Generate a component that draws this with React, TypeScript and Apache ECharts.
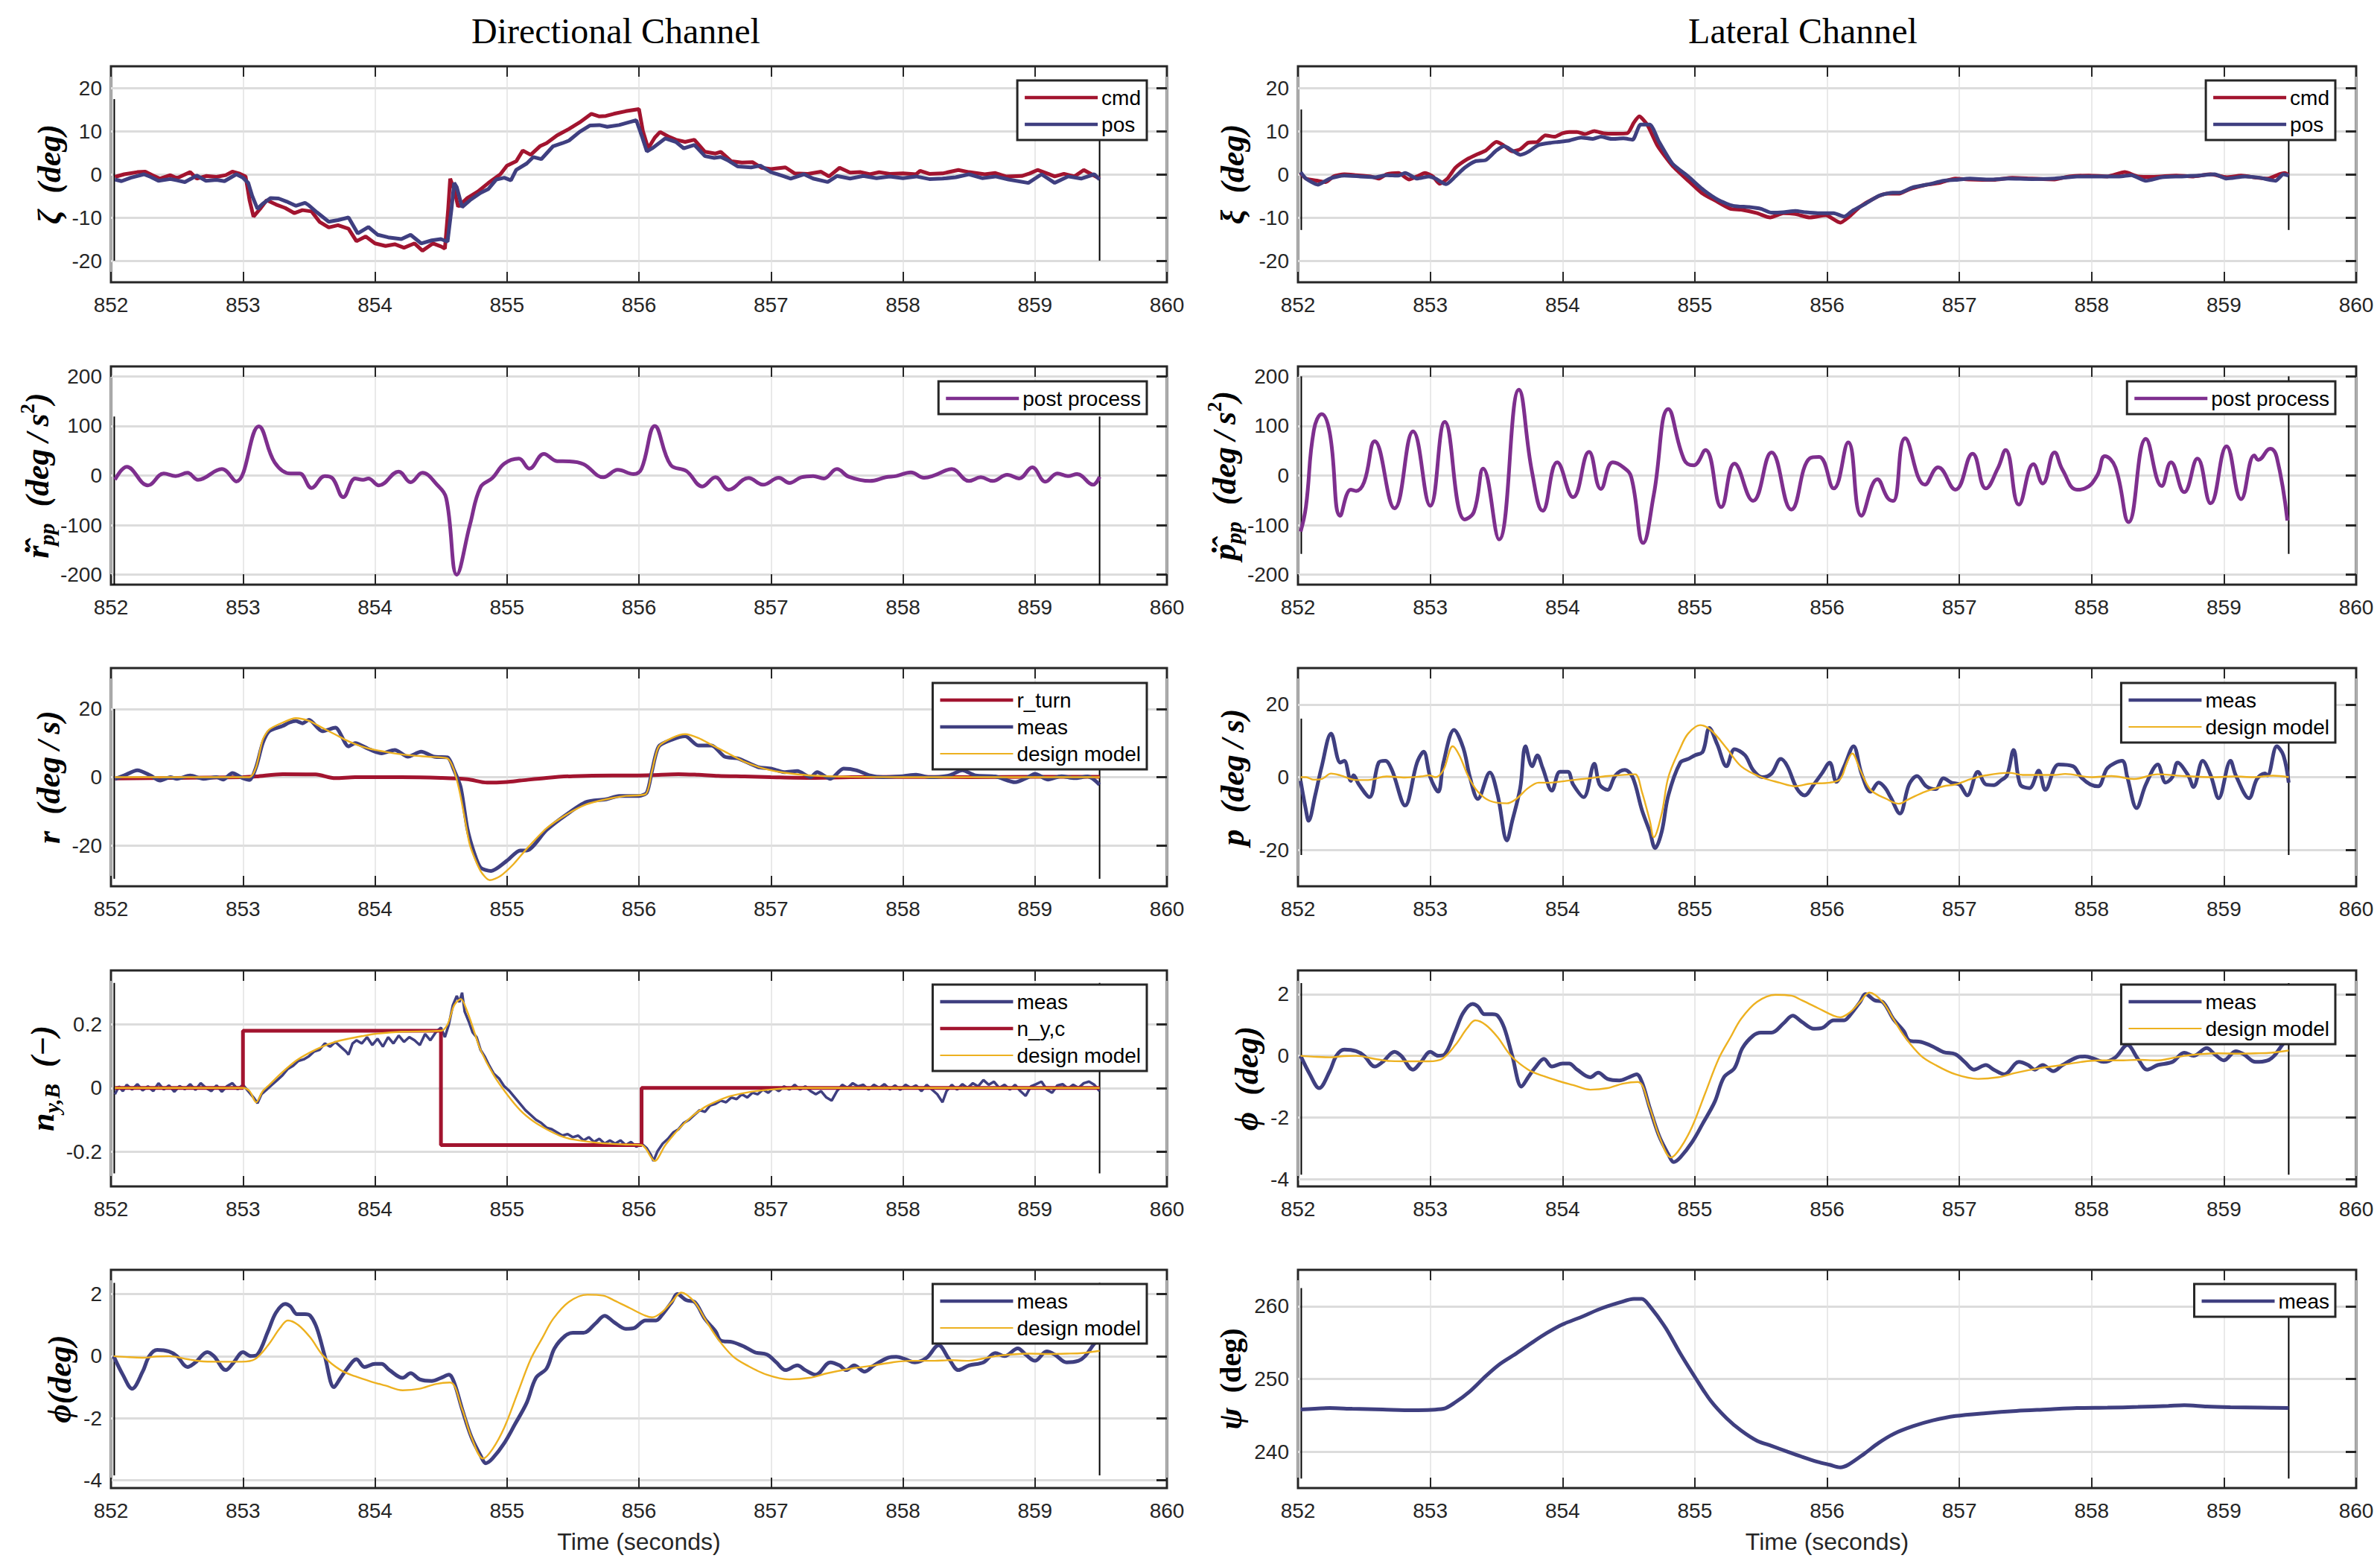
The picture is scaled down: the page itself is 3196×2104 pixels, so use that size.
import React, { useEffect, useRef } from "react";
import * as echarts from "echarts";

// ---------------- data ----------------
const X_MIN = 852;
const X_MAX = 860;
const LIM_T = [852.025, 859.49];

// Row 1 left: rudder
const zetaCmd = [[852.03,-0.6],[852.1,0],[852.2,0.5],[852.26,0.6],[852.32,-0.3],[852.37,-1],[852.45,-0.2],[852.5,-0.9],[852.6,0.5],[852.65,-1],[852.72,-0.4],[852.8,-0.6],[852.87,-0.2],[852.92,0.6],[852.97,0.2],[853.02,-0.5],[853.05,-6],[853.08,-9.8],[853.13,-8],[853.18,-6],[853.25,-7],[853.32,-7.8],[853.39,-9],[853.45,-8.3],[853.52,-8.6],[853.58,-11],[853.65,-12.3],[853.72,-11.8],[853.8,-12.6],[853.86,-15.5],[853.93,-14.4],[854.0,-16],[854.08,-16.6],[854.15,-16.2],[854.22,-17],[854.3,-16],[854.36,-17.7],[854.44,-16],[854.5,-16.7],[854.53,-17.2],[854.555,-8],[854.57,-1],[854.6,-3.5],[854.63,-7.5],[854.7,-5.5],[854.78,-4],[854.86,-2],[854.95,0],[855.0,2],[855.07,3],[855.12,5.5],[855.18,4.5],[855.25,6.5],[855.3,7.2],[855.38,9],[855.47,10.5],[855.55,12],[855.64,14],[855.7,13.4],[855.75,13.5],[855.81,14],[855.9,14.6],[856.0,15.1],[856.03,10],[856.07,6],[856.12,8.5],[856.16,9.8],[856.22,8.8],[856.28,8],[856.35,7.5],[856.42,8],[856.5,5.2],[856.58,4.8],[856.62,5.2],[856.7,3],[856.78,2.7],[856.86,2.8],[856.93,1.5],[857.0,1.2],[857.11,1.6],[857.18,0.2],[857.28,0.1],[857.38,0.6],[857.44,-0.5],[857.52,1.5],[857.6,0.4],[857.68,0.5],[857.75,0],[857.82,0.5],[857.9,0.1],[858.0,0.2],[858.1,0],[858.13,0.8],[858.2,0.1],[858.3,0.2],[858.42,1],[858.5,0.5],[858.62,0],[858.7,0.3],[858.78,-0.5],[858.9,-0.4],[858.96,0.2],[859.02,1],[859.1,0.1],[859.15,-0.5],[859.22,0.1],[859.3,-0.5],[859.37,1],[859.43,0],[859.49,-1]];
const zetaPos = [[852.03,-1.2],[852.08,-1.6],[852.15,-0.8],[852.25,0],[852.3,-0.6],[852.36,-1.5],[852.45,-1.1],[852.5,-1.4],[852.56,-1.8],[852.65,-0.3],[852.72,-1.5],[852.8,-1.3],[852.86,-1.6],[852.95,0],[853.0,-0.8],[853.04,-2],[853.07,-5],[853.11,-8],[853.15,-6.8],[853.21,-5.5],[853.27,-5.6],[853.33,-6.3],[853.4,-7.3],[853.47,-6.6],[853.5,-7.2],[853.56,-8.8],[853.65,-11],[853.72,-10.6],[853.8,-10],[853.87,-13.7],[853.95,-12.2],[854.02,-14],[854.1,-14.6],[854.2,-15],[854.27,-14],[854.35,-16],[854.43,-15.3],[854.5,-15],[854.55,-15.6],[854.58,-8],[854.6,-2],[854.62,-3],[854.66,-7.6],[854.72,-6],[854.8,-4.3],[854.86,-3.4],[854.92,-1.2],[854.98,-0.8],[855.03,-1.4],[855.07,1],[855.15,2.5],[855.2,4],[855.26,3.5],[855.35,6.5],[855.42,7.2],[855.47,7.8],[855.55,9.8],[855.63,11.3],[855.7,11.4],[855.76,11],[855.85,11.4],[855.92,12],[855.98,12.5],[856.02,9],[856.06,5.3],[856.1,6],[856.2,8.3],[856.28,7.5],[856.34,6],[856.42,6.8],[856.5,4.2],[856.57,3.8],[856.62,4],[856.67,3.3],[856.75,1.8],[856.85,1.6],[856.92,2],[857.0,0.5],[857.08,-0.3],[857.15,-1],[857.25,0],[857.32,-1],[857.43,-1.8],[857.5,-0.4],[857.6,-1],[857.7,-0.4],[857.8,-0.9],[857.9,-0.5],[858.0,-0.9],[858.1,-0.5],[858.2,-1.1],[858.3,-1],[858.4,-0.7],[858.5,0],[858.6,-0.9],[858.7,-0.5],[858.8,-1.2],[858.95,-2],[859.05,0],[859.15,-2],[859.25,-0.5],[859.35,-1],[859.45,0],[859.49,-1.2]];

// Row 1 right: aileron
const xiCmd = [[852.02,0.3],[852.06,-1],[852.15,-1.5],[852.21,-1.8],[852.27,-0.5],[852.35,0],[852.44,-0.2],[852.55,-0.5],[852.61,-1],[852.67,0],[852.76,0.3],[852.84,-1.2],[852.9,-0.5],[852.96,0.3],[853.02,-0.5],[853.07,-2.2],[853.13,-1],[853.19,1.5],[853.28,3.5],[853.36,4.7],[853.42,5.5],[853.5,7.5],[853.55,6.8],[853.62,5.3],[853.68,5.8],[853.74,7.3],[853.81,7.5],[853.87,9],[853.94,8.7],[854.0,9.5],[854.05,9.8],[854.11,9.8],[854.17,9.3],[854.24,10],[854.31,9.5],[854.4,9.4],[854.49,9.5],[854.54,12],[854.58,13.4],[854.64,11.5],[854.72,6.5],[854.83,2],[854.95,-1.5],[855.06,-4.5],[855.15,-6],[855.27,-8],[855.35,-8.2],[855.47,-9],[855.57,-10],[855.67,-9],[855.76,-9.2],[855.87,-10],[855.99,-9.5],[856.1,-11.2],[856.16,-10],[856.25,-7.5],[856.36,-5.5],[856.45,-4.5],[856.54,-4.5],[856.62,-3.5],[856.74,-2.5],[856.85,-2],[856.97,-1],[857.08,-1.2],[857.26,-1.3],[857.4,-0.8],[857.55,-1],[857.72,-1.2],[857.83,-0.5],[857.98,-0.3],[858.12,-0.5],[858.25,0.5],[858.35,-0.5],[858.47,-0.6],[858.64,-0.3],[858.76,-0.5],[858.9,0],[859.02,-0.7],[859.13,-0.3],[859.25,-0.8],[859.33,-1],[859.42,0],[859.46,0.3],[859.49,-0.2]];
const xiPos = [[852.02,0.5],[852.06,-1],[852.15,-2.4],[852.24,-1],[852.35,-0.3],[852.47,-0.5],[852.58,-0.7],[852.67,-0.2],[852.76,-0.3],[852.81,0.3],[852.9,-1],[852.99,-0.5],[853.04,-1],[853.12,-2.3],[853.19,-0.5],[853.26,1.5],[853.34,3],[853.42,3.3],[853.5,5.5],[853.56,6.5],[853.62,5.5],[853.68,4.5],[853.74,5.2],[853.82,6.8],[853.91,7.3],[853.97,7.5],[854.05,7.8],[854.14,8.5],[854.23,8.2],[854.29,8.7],[854.37,8.2],[854.46,8.3],[854.53,8],[854.59,11.5],[854.66,11.5],[854.73,7.5],[854.83,2.5],[854.95,-0.5],[855.06,-3.5],[855.18,-6],[855.29,-7.3],[855.41,-7.6],[855.5,-8],[855.58,-8.9],[855.67,-8.8],[855.76,-8.5],[855.84,-8.8],[855.93,-9],[856.05,-9],[856.13,-9.8],[856.19,-8.5],[856.28,-7],[856.39,-5],[856.48,-4.3],[856.56,-4.2],[856.65,-3],[856.77,-2.3],[856.88,-1.5],[856.97,-1.3],[857.08,-1],[857.23,-1.2],[857.37,-1],[857.55,-1.1],[857.72,-1],[857.89,-0.5],[858.06,-0.5],[858.21,-0.5],[858.3,-0.2],[858.41,-1.5],[858.53,-0.7],[858.67,-0.5],[858.81,-0.3],[858.93,0],[859.02,-1],[859.16,-0.5],[859.27,-0.8],[859.39,-1.5],[859.45,0],[859.49,-0.3]];

// Row 2: post-processed accelerations
const rppPost = [[852.03,-8.5],[852.12,17.5],[852.28,-20],[852.4,4],[852.49,-1],[852.58,5.5],[852.66,-8.5],[852.84,13],[852.95,-12],[853.12,99],[853.24,26.5],[853.36,4],[853.43,4],[853.52,-25],[853.62,-1],[853.68,-6],[853.76,-43.6],[853.85,-6],[853.91,-8.5],[853.95,-6],[854.03,-20],[854.18,8],[854.27,-13.5],[854.36,5.5],[854.47,-18.5],[854.54,-46],[854.62,-200],[854.72,-99],[854.8,-23.5],[854.89,-5],[854.98,24],[855.09,34],[855.17,14],[855.28,43.6],[855.38,29],[855.47,28.6],[855.58,23],[855.73,-3.5],[855.84,11.5],[855.96,3],[856.02,14],[856.12,100],[856.24,21.5],[856.36,9],[856.48,-22],[856.58,-3.5],[856.68,-28.6],[856.83,-5],[856.94,-18.5],[857.06,-4.5],[857.14,-15],[857.23,-3.5],[857.32,-1],[857.4,-6],[857.5,13],[857.59,-2.5],[857.75,-11],[857.87,-3.5],[857.95,-1],[858.06,6.5],[858.16,-4.5],[858.24,0.5],[858.37,13],[858.5,-11],[858.59,-3.5],[858.68,-11],[858.79,1.5],[858.88,-6],[858.98,16.5],[859.08,-12.5],[859.17,4],[859.25,-1],[859.32,3],[859.44,-18.5],[859.49,-2.5]];
const pppPost = [[852.02,-113],[852.06,-63],[852.12,91.5],[852.18,124],[852.24,86.5],[852.32,-81],[852.4,-28.5],[852.44,-31],[852.5,-13.5],[852.58,69],[852.73,-66],[852.87,89],[853.0,-61],[853.11,108],[853.26,-88.5],[853.33,-73.5],[853.4,14],[853.52,-128.8],[853.67,173],[853.77,6.5],[853.85,-71],[853.96,26.5],[854.08,-43.6],[854.2,47.6],[854.29,-27],[854.38,26.5],[854.46,16.5],[854.52,-3.5],[854.61,-136],[854.69,-38.6],[854.8,134],[854.92,31.5],[854.99,20.5],[855.08,51.5],[855.2,-63.6],[855.3,24],[855.44,-51],[855.58,46.6],[855.73,-68.6],[855.87,35],[855.94,37.6],[856.05,-26],[856.16,66.7],[856.26,-81],[856.38,-7.5],[856.46,-46],[856.5,-51],[856.59,75],[856.74,-18.5],[856.84,16.5],[856.97,-28.5],[857.1,44],[857.2,-26],[857.29,14],[857.35,51.5],[857.45,-58.6],[857.56,23],[857.63,-16],[857.72,46.6],[857.78,11.5],[857.89,-28.5],[857.95,-26],[858.04,-1],[858.1,39],[858.18,16.5],[858.28,-93.7],[858.41,74],[858.53,-21],[858.6,26.5],[858.7,-33.6],[858.8,34],[858.9,-56],[859.02,59],[859.13,-47.6],[859.23,40.6],[859.26,31.5],[859.35,54],[859.4,36.6],[859.48,-91]];

// Row 3 left: yaw rate
const rTurn = [[852.03,-0.4],[852.5,-0.2],[853.0,0],[853.1,0.2],[853.3,0.9],[853.55,0.8],[853.7,-0.3],[853.85,0],[854.2,0],[854.5,-0.2],[854.7,-0.6],[854.85,-1.6],[855.0,-1.4],[855.1,-1],[855.3,-0.2],[855.5,0.3],[855.8,0.5],[856.0,0.5],[856.1,0.6],[856.3,0.9],[856.45,0.7],[856.6,0.4],[856.8,0.2],[857.0,0],[857.3,-0.2],[857.6,0],[858.0,0.1],[858.5,0],[859.0,0.1],[859.49,0.1]];
const rMeas = [[852.03,-0.5],[852.1,0.5],[852.2,2],[852.3,0.5],[852.37,-1],[852.45,0],[852.5,-0.5],[852.6,0.5],[852.7,-0.5],[852.8,0],[852.85,-0.7],[852.92,1.2],[853.0,-0.3],[853.05,-0.8],[853.1,3],[853.15,10],[853.2,13.5],[853.3,15],[853.35,16],[853.4,16.5],[853.45,15.8],[853.5,16.8],[853.6,13.5],[853.7,14.5],[853.8,9],[853.85,10],[853.95,8.3],[854.05,7],[854.15,8],[854.25,6],[854.35,7.5],[854.45,6],[854.55,5.8],[854.6,2],[854.65,-3],[854.7,-15],[854.75,-22],[854.8,-26.5],[854.88,-27.5],[855.0,-24.5],[855.1,-21.5],[855.15,-21.5],[855.3,-15.5],[855.45,-11],[855.6,-7.3],[855.75,-6.5],[855.85,-5.5],[856.0,-5.5],[856.06,-4.5],[856.1,2],[856.15,9],[856.25,11],[856.35,12],[856.45,9.3],[856.55,9.3],[856.65,6],[856.75,5.5],[856.9,3],[857.0,2.5],[857.1,1.5],[857.2,1.8],[857.3,0],[857.35,1.5],[857.45,-0.5],[857.55,2.5],[857.65,2],[857.75,0.5],[857.85,0],[858.0,0.3],[858.1,0.7],[858.2,0],[858.35,0.5],[858.45,2],[858.55,0.5],[858.7,0.2],[858.85,-1.5],[858.95,0],[859.0,1],[859.1,-0.7],[859.2,0.3],[859.3,-0.3],[859.4,0.2],[859.49,-2.2]];
const rModel = [[852.03,0],[853.05,0],[853.1,3],[853.15,11],[853.2,14],[853.3,16],[853.4,17.3],[853.5,16.5],[853.6,14.5],[853.7,12.5],[853.8,10.5],[853.9,9],[854.0,8],[854.1,7.3],[854.2,6.7],[854.3,6.3],[854.4,6],[854.55,5.5],[854.6,2],[854.64,-4],[854.68,-12],[854.72,-20],[854.8,-27.5],[854.87,-30.2],[854.95,-29],[855.05,-25.5],[855.15,-21],[855.3,-15],[855.45,-11],[855.6,-8],[855.75,-6.5],[855.9,-5.5],[856.05,-5],[856.1,2],[856.15,9],[856.25,11.5],[856.35,12.6],[856.45,11.5],[856.55,9.5],[856.65,7.5],[856.8,4.5],[856.95,2.5],[857.1,1.3],[857.3,0.5],[857.6,0.1],[858.0,0],[859.49,0]];

// Row 3 right: roll rate
const pMeas = [[852.02,-1],[852.06,-9],[852.08,-12],[852.13,-5],[852.18,3],[852.25,12],[852.32,4],[852.35,4.5],[852.4,-1],[852.42,0.5],[852.46,-2],[852.54,-5.5],[852.61,4],[852.66,4.5],[852.71,2],[852.81,-7.8],[852.9,4],[852.95,7],[853.0,0],[853.06,-4],[853.1,4],[853.18,13],[853.25,8],[853.3,0],[853.36,-6],[853.45,1.3],[853.51,-5],[853.58,-17.4],[853.62,-12],[853.68,-3],[853.72,8.5],[853.77,3],[853.81,6],[853.85,2.5],[853.92,-3.7],[853.98,1.5],[854.04,1.5],[854.08,-2],[854.16,-5.5],[854.24,3.7],[854.28,-2],[854.34,-3.5],[854.4,0.5],[854.47,2],[854.53,0],[854.6,-9],[854.66,-15],[854.7,-19.5],[854.75,-15],[854.8,-5],[854.89,4],[854.95,5],[855.0,6],[855.06,7],[855.11,13.5],[855.17,9],[855.24,3],[855.3,7.7],[855.38,6],[855.44,2],[855.51,0],[855.58,1],[855.65,5],[855.7,3],[855.77,-3],[855.83,-5],[855.9,-2],[855.96,1],[856.02,4],[856.07,-1.3],[856.13,3],[856.2,8.5],[856.26,1],[856.33,-4],[856.39,-1.5],[856.44,-3],[856.48,-5.5],[856.55,-10],[856.62,-2],[856.68,0.3],[856.75,-2.5],[856.82,-3.3],[856.88,-0.3],[856.94,-1.5],[857.0,-2],[857.06,-5],[857.14,1.5],[857.2,-2],[857.26,-2.2],[857.31,-1],[857.36,0.5],[857.41,7.5],[857.46,-2],[857.53,-3],[857.6,1.8],[857.65,-3.5],[857.75,3.5],[857.86,3],[857.92,0],[857.99,-2],[858.05,-2.5],[858.12,2.5],[858.23,4.5],[858.27,0],[858.34,-8.5],[858.41,-2],[858.5,3.5],[858.56,-1.5],[858.61,0],[858.65,4],[858.73,0.5],[858.77,-2.7],[858.84,4.5],[858.9,0.5],[858.96,-5.8],[859.05,4.5],[859.09,0.5],[859.19,-5.8],[859.25,-0.5],[859.31,1],[859.33,0.5],[859.4,8.5],[859.45,6],[859.49,-1.5]];
const pModel = [[852.02,0],[852.06,0],[852.12,-0.7],[852.18,-0.5],[852.25,1],[852.32,0.5],[852.44,-0.8],[852.53,-0.8],[852.67,0.2],[852.81,-0.1],[852.93,0.2],[852.99,0.5],[853.04,0],[853.1,2],[853.17,8.5],[853.22,6],[853.29,0],[853.36,-4],[853.45,-6.5],[853.58,-7.2],[853.65,-6],[853.74,-3],[853.82,-1.5],[853.91,-1.5],[854.03,-1],[854.2,-0.3],[854.34,0.3],[854.49,0.7],[854.55,0.8],[854.6,-4],[854.66,-12],[854.69,-16.5],[854.75,-10],[854.8,0],[854.89,8],[854.95,12],[855.04,14.3],[855.12,13],[855.24,8],[855.35,3],[855.5,0],[855.64,-1.5],[855.76,-2.5],[855.87,-1.8],[856.02,-1.5],[856.1,-0.5],[856.15,4],[856.19,6.5],[856.25,2],[856.33,-3.5],[856.45,-6],[856.54,-7.3],[856.62,-6],[856.74,-4],[856.88,-2.5],[856.97,-2],[857.09,-0.5],[857.2,0.5],[857.37,1.2],[857.49,0.6],[857.72,0.6],[857.8,0.9],[858.0,0],[858.15,0.3],[858.32,-0.5],[858.5,0.8],[858.7,0.3],[858.93,0],[859.08,0.2],[859.22,0],[859.37,0.4],[859.49,0]];

// Row 4 left: lateral load factor
const nyMeas = [[852.03,-0.02],[852.06,0.005],[852.09,-0.01],[852.12,0.01],[852.16,-0.005],[852.2,0.012],[852.24,-0.008],[852.28,0.005],[852.32,-0.01],[852.36,0.015],[852.4,-0.005],[852.44,0.008],[852.48,-0.012],[852.52,0.006],[852.56,-0.004],[852.6,0.012],[852.64,-0.006],[852.68,0.015],[852.72,0],[852.76,-0.01],[852.8,0.008],[852.84,-0.012],[852.88,0.006],[852.92,0.015],[852.96,-0.004],[853.0,0.01],[853.04,-0.01],[853.08,-0.03],[853.11,-0.048],[853.14,-0.02],[853.18,-0.005],[853.22,0.01],[853.26,0.025],[853.3,0.04],[853.34,0.06],[853.38,0.07],[853.42,0.085],[853.46,0.09],[853.5,0.1],[853.54,0.115],[853.58,0.12],[853.62,0.14],[853.66,0.13],[853.7,0.145],[853.74,0.13],[853.78,0.115],[853.8,0.105],[853.83,0.14],[853.86,0.15],[853.9,0.14],[853.94,0.16],[853.98,0.135],[854.02,0.155],[854.06,0.13],[854.1,0.16],[854.14,0.14],[854.18,0.165],[854.22,0.145],[854.26,0.16],[854.3,0.15],[854.34,0.135],[854.38,0.17],[854.42,0.15],[854.46,0.175],[854.5,0.19],[854.53,0.16],[854.56,0.2],[854.59,0.26],[854.62,0.29],[854.64,0.27],[854.66,0.3],[854.68,0.24],[854.71,0.21],[854.74,0.175],[854.77,0.16],[854.8,0.12],[854.83,0.1],[854.86,0.075],[854.9,0.045],[854.94,0.03],[854.98,0.005],[855.02,-0.01],[855.06,-0.03],[855.1,-0.05],[855.14,-0.07],[855.18,-0.085],[855.22,-0.1],[855.26,-0.11],[855.3,-0.125],[855.34,-0.13],[855.38,-0.14],[855.42,-0.15],[855.46,-0.145],[855.5,-0.155],[855.54,-0.15],[855.58,-0.165],[855.62,-0.155],[855.66,-0.17],[855.7,-0.16],[855.74,-0.175],[855.78,-0.165],[855.82,-0.175],[855.86,-0.165],[855.9,-0.18],[855.94,-0.17],[855.98,-0.185],[856.02,-0.175],[856.06,-0.19],[856.09,-0.21],[856.11,-0.23],[856.14,-0.2],[856.18,-0.175],[856.22,-0.16],[856.26,-0.14],[856.3,-0.13],[856.34,-0.11],[856.38,-0.1],[856.42,-0.085],[856.46,-0.07],[856.5,-0.075],[856.54,-0.055],[856.58,-0.05],[856.62,-0.04],[856.66,-0.045],[856.7,-0.03],[856.74,-0.035],[856.78,-0.02],[856.82,-0.03],[856.86,-0.015],[856.9,-0.02],[856.94,-0.005],[856.98,-0.015],[857.02,0],[857.06,-0.01],[857.1,0.005],[857.14,-0.005],[857.18,0.01],[857.22,-0.005],[857.26,0.005],[857.3,-0.01],[857.34,-0.02],[857.38,-0.01],[857.42,-0.03],[857.46,-0.04],[857.5,-0.01],[857.54,0.01],[857.58,0],[857.62,0.015],[857.66,0.005],[857.7,0.01],[857.74,-0.005],[857.78,0.01],[857.82,0],[857.86,0.012],[857.9,-0.004],[857.94,0.008],[857.98,-0.006],[858.02,0.01],[858.06,0],[858.1,0.008],[858.14,-0.01],[858.18,0.01],[858.22,-0.005],[858.26,-0.02],[858.3,-0.045],[858.33,-0.01],[858.37,0.01],[858.41,-0.005],[858.45,0.012],[858.49,0],[858.53,0.015],[858.57,0.005],[858.61,0.025],[858.65,0.01],[858.69,0.02],[858.73,0],[858.77,0.01],[858.81,-0.005],[858.85,0.01],[858.89,-0.01],[858.93,-0.025],[858.97,0.005],[859.01,0.012],[859.05,0.02],[859.09,-0.005],[859.13,-0.015],[859.17,0.008],[859.21,0.012],[859.25,-0.002],[859.29,0.01],[859.33,0],[859.37,0.015],[859.41,0.02],[859.45,0.01],[859.49,-0.01]];
const nyCmd = [[852.03,0],[853.0,0],[853.0,0.18],[854.5,0.18],[854.5,-0.18],[856.02,-0.18],[856.02,0],[859.49,0]];
const nyModel = [[852.03,0],[853.0,0],[853.05,-0.01],[853.1,-0.045],[853.15,-0.01],[853.2,0.01],[853.3,0.05],[853.4,0.085],[853.5,0.11],[853.6,0.13],[853.7,0.145],[853.8,0.155],[853.9,0.163],[854.0,0.17],[854.2,0.177],[854.5,0.18],[854.55,0.2],[854.6,0.26],[854.65,0.28],[854.7,0.24],[854.75,0.18],[854.8,0.12],[854.9,0.04],[855.0,-0.02],[855.1,-0.07],[855.2,-0.105],[855.3,-0.13],[855.4,-0.15],[855.5,-0.162],[855.7,-0.173],[855.9,-0.178],[856.02,-0.18],[856.05,-0.19],[856.12,-0.23],[856.2,-0.18],[856.3,-0.13],[856.4,-0.09],[856.5,-0.06],[856.6,-0.04],[856.7,-0.025],[856.85,-0.012],[857.0,-0.005],[857.2,0],[859.49,0]];

// Roll angle (row 4 right and row 5 left)
const phiMeas = [[852.02,0],[852.09,-0.6],[852.16,-1.05],[852.24,-0.5],[852.29,0],[852.35,0.2],[852.44,0.15],[852.5,0],[852.58,-0.35],[852.64,-0.2],[852.73,0.13],[852.78,0],[852.87,-0.45],[852.93,-0.2],[853.0,0.13],[853.06,0],[853.11,0.05],[853.19,0.8],[853.25,1.4],[853.32,1.68],[853.36,1.6],[853.41,1.35],[853.47,1.35],[853.51,1.3],[853.56,0.9],[853.62,0],[853.69,-1.0],[853.74,-0.7],[853.79,-0.4],[853.86,-0.1],[853.92,-0.35],[854.0,-0.25],[854.05,-0.25],[854.11,-0.45],[854.21,-0.7],[854.27,-0.55],[854.34,-0.75],[854.43,-0.8],[854.5,-0.7],[854.56,-0.6],[854.6,-0.85],[854.66,-1.7],[854.73,-2.6],[854.8,-3.2],[854.84,-3.45],[854.89,-3.3],[854.98,-2.8],[855.06,-2.2],[855.15,-1.5],[855.22,-0.7],[855.3,-0.4],[855.36,0.25],[855.44,0.65],[855.5,0.75],[855.58,0.75],[855.67,1.05],[855.74,1.3],[855.81,1.1],[855.9,0.88],[855.96,0.9],[856.05,1.15],[856.13,1.15],[856.17,1.3],[856.25,1.75],[856.29,2.0],[856.36,1.8],[856.42,1.75],[856.5,1.2],[856.58,0.8],[856.62,0.5],[856.71,0.45],[856.8,0.3],[856.88,0.12],[856.97,0.05],[857.04,-0.2],[857.11,-0.45],[857.2,-0.3],[857.26,-0.45],[857.34,-0.6],[857.45,-0.2],[857.52,-0.3],[857.57,-0.45],[857.63,-0.3],[857.71,-0.5],[857.78,-0.3],[857.89,-0.05],[857.95,-0.02],[858.02,-0.1],[858.09,-0.2],[858.18,-0.05],[858.27,0.35],[858.35,-0.1],[858.42,-0.45],[858.5,-0.3],[858.61,-0.2],[858.7,0.1],[858.77,0],[858.87,0.25],[858.93,0.05],[859.0,-0.15],[859.09,0.15],[859.15,0.05],[859.24,-0.2],[859.33,-0.15],[859.38,0],[859.45,0.4],[859.49,0.55]];
const phiModel = [[852.02,0],[852.12,-0.03],[852.24,-0.05],[852.35,-0.01],[852.44,0],[852.58,-0.1],[852.7,-0.17],[852.87,-0.18],[852.99,-0.18],[853.09,-0.1],[853.19,0.35],[853.28,0.9],[853.34,1.15],[853.42,1.0],[853.51,0.6],[853.61,0],[853.74,-0.45],[853.85,-0.65],[853.97,-0.82],[854.08,-0.95],[854.21,-1.1],[854.34,-1.05],[854.46,-0.9],[854.57,-0.85],[854.66,-1.7],[854.73,-2.6],[854.82,-3.3],[854.89,-3.0],[854.98,-2.3],[855.08,-1.2],[855.18,-0.1],[855.27,0.6],[855.35,1.2],[855.47,1.75],[855.61,1.98],[855.73,1.95],[855.81,1.8],[855.93,1.55],[856.05,1.3],[856.1,1.25],[856.17,1.4],[856.25,1.75],[856.32,2.05],[856.42,1.75],[856.5,1.2],[856.59,0.6],[856.71,0],[856.82,-0.3],[856.97,-0.6],[857.14,-0.75],[857.29,-0.7],[857.43,-0.55],[857.61,-0.4],[857.78,-0.3],[857.92,-0.2],[858.06,-0.15],[858.24,-0.15],[858.35,-0.13],[858.5,-0.15],[858.58,-0.1],[858.7,0],[858.81,0.05],[858.96,0.08],[859.1,0.07],[859.24,0.08],[859.36,0.1],[859.49,0.17]];

// Row 5 right: heading
const psiMeas = [[852.02,245.8],[852.24,246.0],[852.41,245.9],[852.64,245.8],[852.87,245.7],[853.1,245.9],[853.19,246.8],[853.3,248.3],[853.42,250.4],[853.53,252.1],[853.65,253.5],[853.77,255.0],[853.88,256.3],[854.0,257.5],[854.14,258.5],[854.28,259.6],[854.43,260.5],[854.54,261.0],[854.6,261.0],[854.66,260.0],[854.78,257.0],[854.89,253.5],[855.01,250.0],[855.12,247.0],[855.24,244.6],[855.35,242.9],[855.47,241.5],[855.58,240.8],[855.7,240.0],[855.81,239.3],[855.93,238.6],[856.02,238.2],[856.1,237.85],[856.16,238.2],[856.28,239.7],[856.39,241.2],[856.51,242.5],[856.65,243.5],[856.8,244.3],[856.97,244.9],[857.2,245.3],[857.43,245.6],[857.66,245.8],[857.89,246.0],[858.12,246.05],[858.35,246.15],[858.58,246.3],[858.7,246.4],[858.87,246.2],[859.05,246.1],[859.28,246.05],[859.49,246.0]];

// axis ticks
const TICKS_DEFL = [-20, -10, 0, 10, 20];
const TICKS_ACC = [-200, -100, 0, 100, 200];
const TICKS_RATE = [-20, 0, 20];
const TICKS_NY = [-0.2, 0, 0.2];
const TICKS_PHI = [-4, -2, 0, 2];
const TICKS_PSI = [240, 250, 260];

// ---------------- styling ----------------
const RED = "#A2142F";
const BLUE = "#3F3F80";
const PURPLE = "#7E2F8E";
const YELLOW = "#EDB120";
const SANS = "'Liberation Sans', Arial, Helvetica, sans-serif";
const SERIF = "'Liberation Serif', 'DejaVu Serif', 'Times New Roman', serif";
const ICON_THICK = "path://M0 0M100 20M0 7.8H100V12.2H0Z";
const ICON_THIN = "path://M0 0M100 20M0 8.9H100V11.1H0Z";

const COLS = [
  { left: 149, width: 1418, legendRight: 1656 },
  { left: 1743, width: 1421, legendRight: 60 },
];
const ROWS = [
  { top: 89, height: 290, legendTop: 108 },
  { top: 492, height: 293, legendTop: 512 },
  { top: 897, height: 293, legendTop: 917 },
  { top: 1303, height: 290, legendTop: 1322 },
  { top: 1705, height: 293, legendTop: 1724 },
];

type S = { name: string; data: number[][]; color: string; width: number; smooth: number | boolean };

const thick = (name: string, data: number[][], color: string, smooth: number | boolean = false): S => ({ name, data, color, width: 5, smooth });
const thin = (name: string, data: number[][], smooth: number | boolean = 0.3): S => ({ name, data, color: YELLOW, width: 2.4, smooth });

const TS = "\u2009";
const panels = [
  { col: 0, row: 0, yMin: -25, yMax: 25, ticks: TICKS_DEFL, yName: "{m|ζ  (deg)}", gap: 56, lim: [-20, 17.4],
    series: [thick("cmd", zetaCmd, RED), thick("pos", zetaPos, BLUE)] },
  { col: 1, row: 0, yMin: -25, yMax: 25, ticks: TICKS_DEFL, yName: "{m|ξ  (deg)}", gap: 61, lim: [-12.9, 15],
    series: [thick("cmd", xiCmd, RED, 0.2), thick("pos", xiPos, BLUE, 0.2)] },
  { col: 0, row: 1, yMin: -220, yMax: 220, ticks: TICKS_ACC, yName: `{m|ṙ̂}{s|pp}{m|  (deg${TS}/${TS}s}{p|2}{m|)}`, gap: 72, lim: [-220, 119],
    series: [thick("post process", rppPost, PURPLE, 0.4)] },
  { col: 1, row: 1, yMin: -220, yMax: 220, ticks: TICKS_ACC, yName: `{m|ṗ̂}{s|pp}{m|  (deg${TS}/${TS}s}{p|2}{m|)}`, gap: 70, lim: [-158, 200],
    series: [thick("post process", pppPost, PURPLE, 0.45)] },
  { col: 0, row: 2, yMin: -32, yMax: 32, ticks: TICKS_RATE, yName: `{m|r  (deg${TS}/${TS}s)}`, gap: 57, lim: [-29.8, 20],
    series: [thick("r_turn", rTurn, RED, 0.3), thick("meas", rMeas, BLUE, 0.25), thin("design model", rModel, 0.25)] },
  { col: 1, row: 2, yMin: -30, yMax: 30, ticks: TICKS_RATE, yName: `{m|p  (deg${TS}/${TS}s)}`, gap: 61, lim: [-21.4, 16.1],
    series: [thick("meas", pMeas, BLUE, 0.35), thin("design model", pModel, 0.35)] },
  { col: 0, row: 3, yMin: -0.31, yMax: 0.37, ticks: TICKS_NY, yName: "{m|n}{s|y,B}{m|  (−)}", gap: 58, lim: [-0.269, 0.331],
    series: [{ name: "meas", data: nyMeas, color: BLUE, width: 3.5, smooth: false }, thick("n_y,c", nyCmd, RED), thin("design model", nyModel, 0.3)] },
  { col: 1, row: 3, yMin: -4.24, yMax: 2.77, ticks: TICKS_PHI, yName: "{m|ϕ  (deg)}", gap: 42, lim: [-3.86, 2.36],
    series: [thick("meas", phiMeas, BLUE, 0.35), thin("design model", phiModel, 0.35)] },
  { col: 0, row: 4, yMin: -4.25, yMax: 2.78, ticks: TICKS_PHI, yName: "{m|ϕ(deg)}", gap: 42, lim: [-3.84, 2.36],
    series: [thick("meas", phiMeas, BLUE, 0.35), thin("design model", phiModel, 0.35)] },
  { col: 1, row: 4, yMin: 235, yMax: 265, ticks: TICKS_PSI, yName: "{m|ψ}{u|  (deg)}", gap: 64, lim: [236.3, 262.5],
    series: [thick("meas", psiMeas, BLUE, 0.3)] },
];

const RICH = {
  m: { fontFamily: SERIF, fontStyle: "italic", fontWeight: "bold", fontSize: 44, lineHeight: 54, color: "#000" },
  u: { fontFamily: SERIF, fontWeight: "bold", fontSize: 40, lineHeight: 54, color: "#000" },
  s: { fontFamily: SERIF, fontStyle: "italic", fontWeight: "bold", fontSize: 30, lineHeight: 30, verticalAlign: "bottom", color: "#000" },
  p: { fontFamily: SERIF, fontWeight: "bold", fontSize: 27, lineHeight: 27, verticalAlign: "top", color: "#000" },
};

function buildOption() {
  const grid: any[] = [];
  const xAxis: any[] = [];
  const yAxis: any[] = [];
  const series: any[] = [];
  const legend: any[] = [];

  panels.forEach((p, i) => {
    const c = COLS[p.col];
    const r = ROWS[p.row];
    grid.push({ left: c.left, top: r.top, width: c.width, height: r.height, show: true, borderColor: "#262626", borderWidth: 3, backgroundColor: "#fff" });
    xAxis.push({
      gridIndex: i, type: "value", min: X_MIN, max: X_MAX, interval: 1, position: "bottom",
      axisLine: { show: false, onZero: false },
      axisTick: { show: true, inside: true, length: 14, lineStyle: { color: "#262626", width: 2 } },
      axisLabel: { color: "#262626", fontSize: 28, fontFamily: SANS, margin: 16, formatter: (v: number) => String(v) },
      splitLine: { show: true, lineStyle: { color: "#e2e2e2", width: 1.5 } },
      name: p.row === 4 ? "Time (seconds)" : "", nameLocation: "middle", nameGap: 56,
      nameTextStyle: { fontSize: 32, fontFamily: SANS, color: "#262626" },
    });
    xAxis.push({
      gridIndex: i, type: "value", min: X_MIN, max: X_MAX, interval: 1, position: "top",
      axisLine: { show: false, onZero: false },
      axisTick: { show: true, inside: true, length: 14, lineStyle: { color: "#262626", width: 2 } },
      axisLabel: { show: false }, splitLine: { show: false },
    });
    yAxis.push({
      gridIndex: i, type: "value", min: p.yMin, max: p.yMax, position: "left",
      axisLine: { show: false, onZero: false },
      axisTick: { show: false, customValues: p.ticks },
      axisLabel: { customValues: p.ticks, color: "#262626", fontSize: 28, fontFamily: SANS, margin: 12, formatter: (v: number) => String(v) },
      splitLine: { show: true, lineStyle: { color: "#dcdcdc", width: 3 } },
      name: p.yName, nameLocation: "middle", nameRotate: 90, nameGap: p.gap,
      nameTextStyle: { rich: RICH },
    });
    yAxis.push({
      gridIndex: i, type: "value", min: p.yMin, max: p.yMax, position: "right",
      axisLine: { show: false, onZero: false },
      axisTick: { show: true, inside: true, length: 14, customValues: p.ticks, lineStyle: { color: "#262626", width: 3 } },
      axisLabel: { show: false }, splitLine: { show: false },
    });
    LIM_T.forEach((t) => {
      series.push({
        type: "line", name: "_limit", xAxisIndex: 2 * i, yAxisIndex: 2 * i,
        data: [[t, p.lim[0]], [t, p.lim[1]]], symbol: "none", silent: true,
        lineStyle: { color: "#000", width: 2 }, z: 1,
      });
    });
    p.series.forEach((s, k) => {
      series.push({
        type: "line", name: s.name, xAxisIndex: 2 * i, yAxisIndex: 2 * i,
        data: s.data, symbol: "none", showSymbol: false, smooth: s.smooth, silent: true,
        lineStyle: { color: s.color, width: s.width }, itemStyle: { color: s.color }, z: 2 + k,
      });
    });
    legend.push({
      orient: "vertical", right: c.legendRight, top: r.legendTop,
      data: p.series.map((s) => ({ name: s.name, icon: s.width < 3 ? ICON_THIN : ICON_THICK })),
      itemWidth: 98, itemHeight: 20, itemGap: 8, padding: [9, 8, 7, 10],
      backgroundColor: "#fff", borderColor: "#262626", borderWidth: 3, borderRadius: 0,
      textStyle: { fontFamily: SANS, fontSize: 28, color: "#000", lineHeight: 28 },
      selectedMode: false, z: 10,
    });
  });

  return {
    animation: false,
    backgroundColor: "#fff",
    grid, xAxis, yAxis, series, legend,
    graphic: [
      { type: "text", x: 827, y: 41, style: { text: "Directional Channel", font: `48px ${SERIF}`, fill: "#000", align: "center", verticalAlign: "middle" } },
      { type: "text", x: 2421, y: 41, style: { text: "Lateral Channel", font: `48px ${SERIF}`, fill: "#000", align: "center", verticalAlign: "middle" } },
    ],
  };
}

export default function App() {
  const ref = useRef<HTMLDivElement>(null);
  useEffect(() => {
    if (!ref.current) return;
    const chart = echarts.init(ref.current, undefined, { renderer: "svg" });
    chart.setOption(buildOption() as any);
    return () => chart.dispose();
  }, []);
  return <div ref={ref} style={{ position: "absolute", left: 0, top: 0, width: 3196, height: 2104, background: "#fff" }} />;
}
